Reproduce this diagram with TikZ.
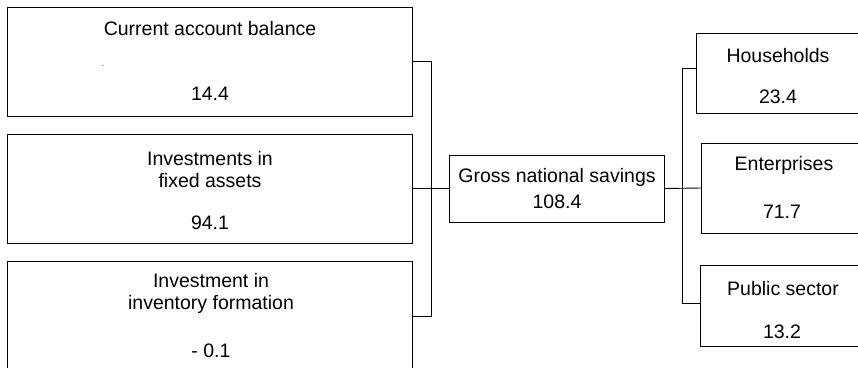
\documentclass[tikz,border=0pt]{standalone}
\usepackage{fontspec}
\setmainfont{Liberation Sans}
\tikzset{
  box/.style={draw, line width=0.9pt, anchor=north west, inner sep=0pt, outer sep=0pt},
  lbl/.style={anchor=base, inner sep=0pt, font=\fontsize{19.5}{22}\selectfont},
  link/.style={line width=0.9pt}
}
\begin{document}
\begin{tikzpicture}[x=1pt,y=-1pt]
	\useasboundingbox (0,0) rectangle (858,367);
	\clip (0,0) rectangle (858,367);
	% uses of savings
	\node[box, minimum width=405pt, minimum height=109pt] (ca) at (7,7) {};
	\node[box, minimum width=405pt, minimum height=109pt] (fa) at (7,134) {};
	\node[box, minimum width=405pt, minimum height=110pt] (inv) at (7,261) {};
	\node[lbl] (ca-t) at (210,35) {Current account balance};
	\node[lbl, font=\fontsize{8}{8}\selectfont] (ca-d) at (103,66) {.};
	\node[lbl] (ca-v) at (210,100) {14.4};
	\node[lbl] (fa-t1) at (210,165) {Investments in};
	\node[lbl] (fa-t2) at (210,187) {fixed assets};
	\node[lbl] (fa-v) at (210,229) {94.1};
	\node[lbl] (inv-t1) at (211,287) {Investment in};
	\node[lbl] (inv-t2) at (211,309) {inventory formation};
	\node[lbl] (inv-v) at (211,357) {- 0.1};
	% total
	\node[box, minimum width=215pt, minimum height=67pt] (gns) at (449,155) {};
	\node[lbl] (gns-t) at (557,182) {Gross national savings};
	\node[lbl] (gns-v) at (557,208) {108.4};
	% sources of savings
	\node[box, minimum width=174pt, minimum height=80pt] (hh) at (696,33) {};
	\node[box, minimum width=169pt, minimum height=90pt] (ent) at (701,143) {};
	\node[box, minimum width=170pt, minimum height=81pt] (ps) at (700,265) {};
	\node[lbl] (hh-t) at (778,62) {Households};
	\node[lbl] (hh-v) at (778,103) {23.4};
	\node[lbl] (ent-t) at (784,170) {Enterprises};
	\node[lbl] (ent-v) at (782,218) {71.7};
	\node[lbl] (ps-t) at (783,295) {Public sector};
	\node[lbl] (ps-v) at (782,338) {13.2};
	% brackets
	\coordinate (lj) at (431,189);
	\coordinate (rj) at (682,189);
	\draw[link] (ca.east) -- (ca.east -| lj) -- (inv.east -| lj) -- (inv.east);
	\draw[link] (fa.east) -- (gns.west);
	\draw[link] ([yshift=5pt]hh.west) -- ([yshift=5pt]hh.west -| rj) -- ([yshift=2.5pt]ps.west -| rj) -- ([yshift=2.5pt]ps.west);
	\draw[link] (gns.east) -- (ent.west);
\end{tikzpicture}
\end{document}
